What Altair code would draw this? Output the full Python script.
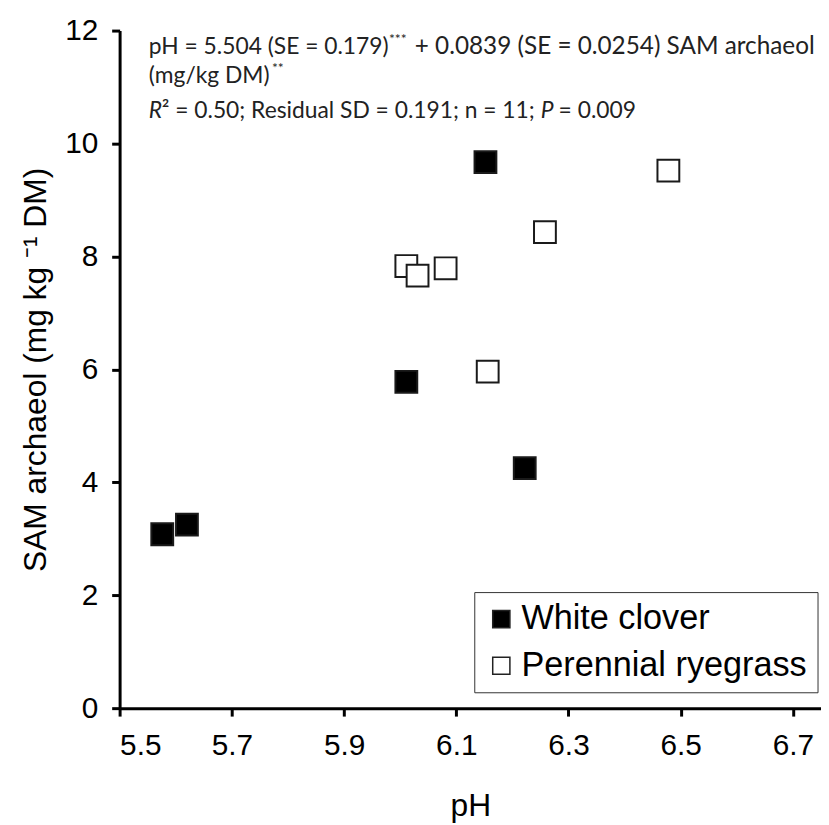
import altair as alt
import pandas as pd

# ---- data ----
wc_ph = [5.576, 5.620, 6.011, 6.152, 6.222]
wc_sam = [3.08, 3.25, 5.78, 9.67, 4.25]
pr_ph = [6.011, 6.031, 6.081, 6.156, 6.258, 6.478]
pr_sam = [7.83, 7.66, 7.79, 5.96, 8.43, 9.52]
groups = ["White clover", "Perennial ryegrass"]
x_ticks = [5.5, 5.7, 5.9, 6.1, 6.3, 6.5, 6.7]
y_ticks = [0, 2, 4, 6, 8, 10, 12]

df = pd.DataFrame({
    "species": [groups[0]] * len(wc_ph) + [groups[1]] * len(pr_ph),
    "pH": wc_ph + pr_ph,
    "SAM": wc_sam + pr_sam,
})

AX_FONT = "Liberation Sans"
ANN_FONT = "Lato"

points = alt.Chart(df).mark_point(
    shape="square", filled=True, size=484, opacity=1,
    stroke="#1a1a1a", strokeWidth=2
).encode(
    x=alt.X("pH:Q",
            scale=alt.Scale(domain=[5.5, 6.75], nice=False, zero=False),
            axis=alt.Axis(values=x_ticks, format=".1f", title="pH",
                          labelPadding=15, titlePadding=30)),
    y=alt.Y("SAM:Q",
            scale=alt.Scale(domain=[0, 12], nice=False),
            axis=alt.Axis(values=y_ticks, title="SAM archaeol (mg kg \u207b\u00b9 DM)",
                          labelPadding=14, titlePadding=12, titleFontSize=32)),
    fill=alt.Fill("species:N",
                  scale=alt.Scale(domain=groups, range=["black", "white"]),
                  legend=alt.Legend(
                      orient="none", legendX=357.5, legendY=566, title=None,
                      strokeColor="#333", fillColor="white", padding=10,
                      symbolType="square", symbolSize=300,
                      symbolStrokeColor="#222", symbolStrokeWidth=1.5,
                      symbolOffset=0, labelOffset=3, rowPadding=12,
                      labelLimit=500,
                      labelFont=AX_FONT, labelFontSize=34.5, labelColor="black")),
)

one = pd.DataFrame({"a": [0]})


def txt(text, x, y, size=23, style="normal"):
    return alt.Chart(one).mark_text(
        text=text, align="left", baseline="middle", font=ANN_FONT,
        fontSize=size, fontStyle=style, color="#222"
    ).encode(x=alt.value(x), y=alt.value(y))


# annotation (positions in plot-pixel space, plot origin at top-left)
ox, oy = 120.5, 27.5
ann = [
    txt("pH = 5.504 (SE = 0.179)", 150 - ox, 44 - oy),
    txt("***", 392 - ox, 37 - oy, size=14),
    txt("+ 0.0839 (SE = 0.0254) SAM archaeol", 418 - ox, 44 - oy, size=24.5),
    txt("(mg/kg DM)", 150 - ox, 73 - oy),
    txt("**", 274 - ox, 66 - oy, size=14),
    txt("R", 150 - ox, 109 - oy, style="italic"),
    txt("\u00b2 = 0.50; Residual SD = 0.191; n = 11;", 163 - ox, 109 - oy),
    txt("P", 545 - ox, 109 - oy, style="italic"),
    txt("= 0.009", 563 - ox, 109 - oy),
]

chart = alt.layer(points, *ann).properties(
    width=707, height=683,
    autosize=alt.AutoSizeParams(type="none"),
    padding={"left": 112.5, "top": 19.5, "right": 0, "bottom": 112},
).configure_view(stroke=None).configure_axis(
    grid=False, domainColor="black", domainWidth=3, tickColor="black",
    tickWidth=3, tickSize=8, labelFont=AX_FONT, labelFontSize=30,
    labelColor="black", titleFont=AX_FONT, titleFontSize=32,
    titleFontWeight="normal", titleColor="black",
)

chart.save("out.html", embed_options={"renderer": "svg", "actions": False})
